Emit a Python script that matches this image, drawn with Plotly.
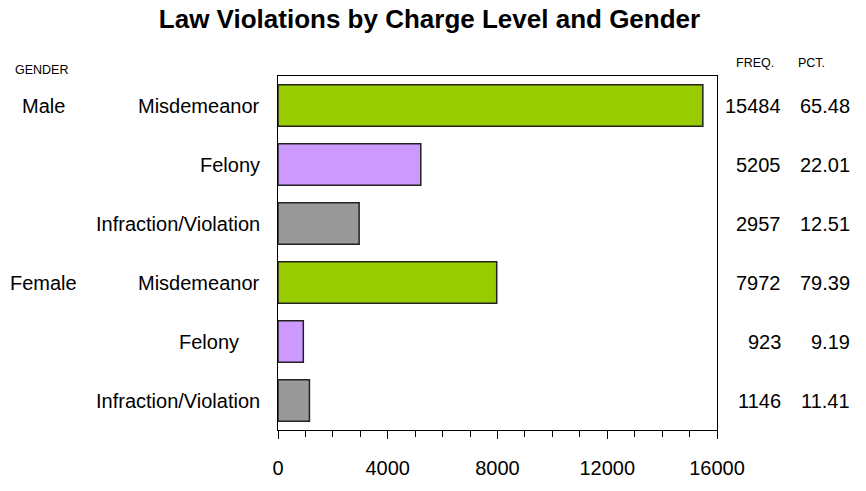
import plotly.graph_objects as go

genders = ["Male", "Female"]
levels = ["Misdemeanor", "Felony", "Infraction/Violation"]
male_freq = [15484, 5205, 2957]
female_freq = [7972, 923, 1146]
male_pct = [65.48, 22.01, 12.51]
female_pct = [79.39, 9.19, 11.41]
x_ticks = [0, 4000, 8000, 12000, 16000]

level_colors = {"Misdemeanor": "#99CC00", "Felony": "#CC99FF", "Infraction/Violation": "#999999"}

rows = []
for g, freqs, pcts in [("Male", male_freq, male_pct), ("Female", female_freq, female_pct)]:
    for lv, f, p in zip(levels, freqs, pcts):
        rows.append((g, lv, f, p))

ypos = list(range(len(rows)))
FONT = "Liberation Sans, Arial, sans-serif"

fig = go.Figure()
fig.add_trace(go.Bar(
    y=ypos,
    x=[r[2] for r in rows],
    orientation="h",
    width=0.7,
    marker=dict(color=[level_colors[r[1]] for r in rows],
                line=dict(color="#222222", width=1.5)),
    hoverinfo="x",
    showlegend=False,
))

annotations = []
for i, (g, lv, f, p) in enumerate(rows):
    shift = -16
    if g == "Female" and lv == "Felony":
        shift = -37
    annotations.append(dict(x=0, xref="paper", y=i, yref="y", text=lv, showarrow=False,
                            xanchor="right", xshift=shift, font=dict(size=20, family=FONT, color="#000")))
    annotations.append(dict(x=1.1503, xref="paper", y=i, yref="y", text=str(f), showarrow=False,
                            xanchor="right", font=dict(size=20, family=FONT, color="#000")))
    annotations.append(dict(x=1.3075, xref="paper", y=i, yref="y", text=f"{p:.2f}", showarrow=False,
                            xanchor="right", font=dict(size=20, family=FONT, color="#000")))

for i, (g, lv, f, p) in enumerate(rows):
    if lv == levels[0]:
        annotations.append(dict(x=-0.5353, xref="paper", y=i, yref="y", text=g, showarrow=False,
                                xanchor="center", font=dict(size=20, family=FONT, color="#000")))

annotations += [
    dict(x=-0.6036, xref="paper", y=1.016, yref="paper", text="GENDER", showarrow=False,
         xanchor="left", yanchor="middle", font=dict(size=12.5, family=FONT, color="#000")),
    dict(x=1.1344, xref="paper", y=1.038, yref="paper", text="FREQ.", showarrow=False,
         xanchor="right", yanchor="middle", font=dict(size=12.5, family=FONT, color="#000")),
    dict(x=1.2506, xref="paper", y=1.038, yref="paper", text="PCT.", showarrow=False,
         xanchor="right", yanchor="middle", font=dict(size=12.5, family=FONT, color="#000")),
]

fig.update_layout(
    width=866, height=491,
    margin=dict(l=278, r=149, t=76, b=49),
    paper_bgcolor="white", plot_bgcolor="white",
    font=dict(family=FONT, size=20, color="#000"),
    title=dict(text="<b>Law Violations by Charge Level and Gender</b>",
               x=429.5 / 866, xanchor="center", y=1 - 19 / 491, yanchor="middle",
               font=dict(size=26, family=FONT, color="#000")),
    xaxis=dict(range=[0, 16000], tickvals=x_ticks, ticktext=[str(v) for v in x_ticks],
               ticks="outside", ticklen=8, tickcolor="#000", tickwidth=1,
               minor=dict(dtick=1000, ticks="outside", ticklen=6, tickcolor="#000", showgrid=False),
               showline=True, linecolor="#000", linewidth=1, mirror=True,
               showgrid=False, zeroline=False, ticklabelstandoff=12,
               tickfont=dict(size=20, family=FONT, color="#000")),
    yaxis=dict(range=[len(rows) - 0.5, -0.5], showticklabels=False, ticks="",
               showline=True, linecolor="#000", linewidth=1, mirror=True,
               showgrid=False, zeroline=False),
    annotations=annotations,
    bargap=0.3,
)

# remove the browser's default 8px body margin so the figure sits at the page origin
fig.write_html("out.html", config={"displayModeBar": False},
               post_script="document.body.style.margin='0px';")
